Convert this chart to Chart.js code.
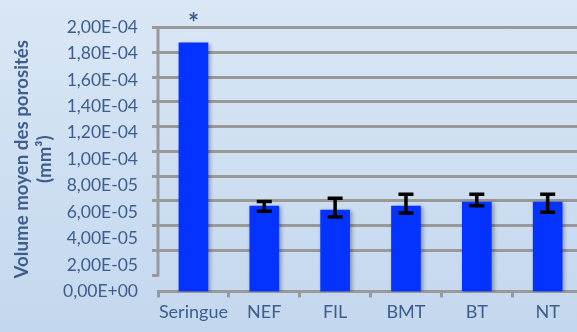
<!DOCTYPE html>
<html>
<head>
<meta charset="utf-8">
<script src="https://cdn.jsdelivr.net/npm/chart.js@4.4.0/dist/chart.umd.min.js"></script>
<style>
  html, body { margin: 0; padding: 0; overflow: hidden; }
  body { width: 577px; height: 332px; background: linear-gradient(to bottom, #dae7f5, #c3d7ee); }
  #wrap { position: relative; width: 577px; height: 332px; }
</style>
</head>
<body>
<div id="wrap"><canvas id="chart"></canvas></div>
<script>
const categories = ["Seringue", "NEF", "FIL", "BMT", "BT", "NT"];
const volumes = [1.88e-4, 6.45e-5, 6.15e-5, 6.45e-5, 6.75e-5, 6.75e-5];
const errUp = [null, 3.5e-6, 8.9e-6, 8.9e-6, 5.9e-6, 5.9e-6];
const errDown = [null, 3.9e-6, 5.2e-6, 5.2e-6, 2.7e-6, 7.6e-6];
const marks = ["*", "", "", "", "", ""];
const yTicks = [0, 2e-5, 4e-5, 6e-5, 8e-5, 1e-4, 1.2e-4, 1.4e-4, 1.6e-4, 1.8e-4, 2e-4];

const textColor = "#3d5e8d";
const grey = "#999999";
const font = "Lato";

// 2e-5 -> "2,00E-05"
const sci = (v) => {
  const [m, e] = v.toExponential(2).split("e");
  const n = parseInt(e, 10);
  return m.replace(".", ",") + "E" + (n < 0 ? "-" : "+") + String(Math.abs(n)).padStart(2, "0");
};

// back wall line, bar shadows, error bars and the star above Seringue
const extras = {
  id: "extras",
  beforeDatasetsDraw(chart) {
    const { ctx, chartArea, scales } = chart;
    ctx.save();
    ctx.strokeStyle = grey;
    ctx.lineWidth = 3;
    ctx.beginPath();
    ctx.moveTo(chartArea.left, scales.wall.getPixelForValue(yTicks[0]) + 1.5);
    ctx.lineTo(chartArea.left, scales.wall.getPixelForValue(yTicks[yTicks.length - 1]) - 1.5);
    ctx.stroke();
    ctx.restore();

    ctx.save();
    ctx.shadowColor = "rgba(0, 0, 40, 0.35)";
    ctx.shadowBlur = 4;
    ctx.shadowOffsetX = 2;
    ctx.shadowOffsetY = 1;
  },
  afterDatasetsDraw(chart) {
    const { ctx, scales } = chart;
    ctx.restore();
    const x = scales.x, y = scales.y;

    ctx.save();
    ctx.strokeStyle = "#000";
    ctx.lineWidth = 3.5;
    volumes.forEach((v, i) => {
      if (errUp[i] == null) return;
      const px = x.getPixelForValue(i);
      const top = y.getPixelForValue(v + errUp[i]);
      const bot = y.getPixelForValue(v - errDown[i]);
      ctx.beginPath();
      ctx.moveTo(px, top); ctx.lineTo(px, bot);
      ctx.moveTo(px - 7.5, top); ctx.lineTo(px + 7.5, top);
      ctx.moveTo(px - 7.5, bot); ctx.lineTo(px + 7.5, bot);
      ctx.stroke();
    });

    ctx.fillStyle = textColor;
    ctx.font = "bold 26px " + font;
    ctx.textAlign = "center";
    ctx.textBaseline = "alphabetic";
    marks.forEach((m, i) => {
      if (!m) return;
      ctx.fillText(m, x.getPixelForValue(i), y.getPixelForValue(volumes[i]) - 11);
    });
    ctx.restore();
  },
};

new Chart(document.getElementById("chart"), {
  type: "bar",
  data: {
    datasets: [{
      data: volumes.map((v, i) => ({ x: i, y: v })),
      backgroundColor: "#0433ff",
      barThickness: 29,
      yAxisID: "y",
    }],
  },
  options: {
    responsive: true,
    maintainAspectRatio: false,
    animation: false,
    layout: { padding: { top: 27, right: 0, bottom: 5, left: 0 } },
    plugins: { legend: { display: false }, tooltip: { enabled: false } },
    scales: {
      x: {
        type: "linear",
        min: -0.5,
        max: 5.414,
        offset: false,
        afterBuildTicks: (s) => { s.ticks = categories.map((_, i) => ({ value: i })); },
        ticks: {
          callback: (v) => categories[v],
          color: textColor,
          font: { family: font, size: 18 },
          padding: 4,
          autoSkip: false,
          maxRotation: 0,
        },
        grid: { offset: true, drawOnChartArea: false, color: grey, lineWidth: 3, tickLength: 6 },
        border: { color: grey, width: 3 },
      },
      y: {
        position: "left",
        weight: 1,
        min: 0,
        max: 2e-4,
        afterBuildTicks: (s) => { s.ticks = yTicks.map((v) => ({ value: v })); },
        afterFit: (s) => { s.width = 152; },
        ticks: { callback: sci, color: textColor, font: { family: font, size: 17.5 }, padding: 14 },
        grid: { display: false, drawTicks: false },
        border: { display: false },
        title: {
          display: true,
          text: ["Volume moyen des porosités", "(mm³)"],
          color: textColor,
          font: { family: font, size: 18.7, weight: "bold", lineHeight: 1.2 },
          padding: { top: 11, bottom: 0 },
        },
      },
      wall: {
        position: "left",
        weight: 0,
        min: -1.325e-5,
        max: 2.0055e-4,
        afterBuildTicks: (s) => { s.ticks = yTicks.map((v) => ({ value: v })); },
        afterFit: (s) => { s.width = 6; },
        ticks: { display: false },
        grid: {
          color: (c) => (c.tick && c.tick.value === 0 ? "rgba(0,0,0,0)" : grey),
          tickColor: grey,
          lineWidth: 3,
          tickLength: 6,
        },
        border: { display: false },
      },
    },
  },
  plugins: [extras],
});
</script>
</body>
</html>
